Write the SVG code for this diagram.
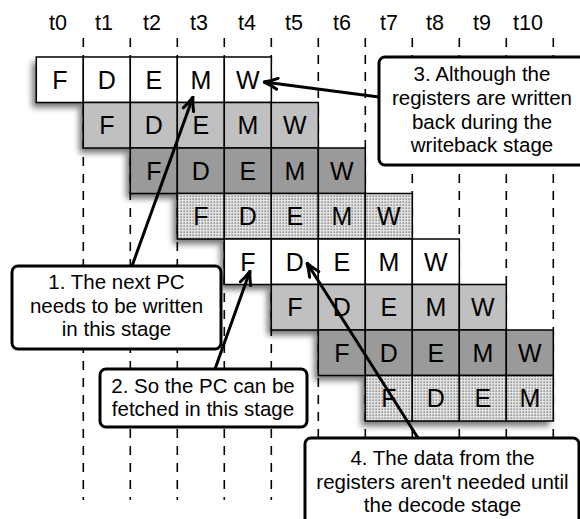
<svg xmlns="http://www.w3.org/2000/svg" width="580" height="519" viewBox="0 0 580 519">
<defs>
<style>
.hdr{font-family:"Liberation Sans",Arial,sans-serif;font-size:21.5px;text-anchor:middle;fill:#000}
.st{font-family:"Liberation Sans",Arial,sans-serif;font-size:25px;text-anchor:middle;fill:#000}
.cl{font-family:"Liberation Sans",Arial,sans-serif;font-size:20.5px;text-anchor:middle;fill:#000}
.grid{stroke:#000;stroke-width:1.6;stroke-dasharray:9 8;fill:none}
.cell{stroke:#000;stroke-width:1.5}
.w{fill:#fff}.g1{fill:#c0c0c0}.g2{fill:#9a9a9a}.dt{fill:url(#dots)}
.box{fill:#fff;stroke:#000;stroke-width:3}
.arr{stroke:#000;stroke-width:3;fill:none;marker-end:url(#ah)}
</style>
<pattern id="dots" width="3" height="3" patternUnits="userSpaceOnUse">
<rect width="3" height="3" fill="#e2e2e2"/>
<rect x="0.5" y="0.5" width="1.3" height="1.3" fill="#6e6e6e"/>
</pattern>
<filter id="sh" x="-20%" y="-30%" width="140%" height="170%">
<feDropShadow dx="-4" dy="5" stdDeviation="3" flood-color="#000" flood-opacity="0.55"/>
</filter>
<marker id="ah" viewBox="0 0 16 14" refX="15" refY="7" markerWidth="16" markerHeight="14" markerUnits="userSpaceOnUse" orient="auto">
<path d="M1.5,1.5 Q8,5 15,7 Q8,9 1.5,12.5" fill="none" stroke="#000" stroke-width="3" stroke-linecap="round" stroke-linejoin="round"/>
</marker>
</defs>
<rect width="580" height="519" fill="#fff"/>
<g id="header">
<text class="hdr" x="58" y="30">t0</text>
<text class="hdr" x="104" y="30">t1</text>
<text class="hdr" x="152" y="30">t2</text>
<text class="hdr" x="199" y="30">t3</text>
<text class="hdr" x="247" y="30">t4</text>
<text class="hdr" x="294" y="30">t5</text>
<text class="hdr" x="342" y="30">t6</text>
<text class="hdr" x="389" y="30">t7</text>
<text class="hdr" x="435" y="30">t8</text>
<text class="hdr" x="482" y="30">t9</text>
<text class="hdr" x="528" y="30">t10</text>
</g>
<g id="gridlines">
<line class="grid" x1="83.3" y1="38" x2="83.3" y2="500"/>
<line class="grid" x1="130.3" y1="38" x2="130.3" y2="500"/>
<line class="grid" x1="177.3" y1="38" x2="177.3" y2="500"/>
<line class="grid" x1="224.3" y1="38" x2="224.3" y2="500"/>
<line class="grid" x1="271.3" y1="38" x2="271.3" y2="500"/>
<line class="grid" x1="318.3" y1="38" x2="318.3" y2="500"/>
<line class="grid" x1="365.3" y1="38" x2="365.3" y2="500"/>
<line class="grid" x1="412.3" y1="38" x2="412.3" y2="500"/>
<line class="grid" x1="459.3" y1="38" x2="459.3" y2="500"/>
<line class="grid" x1="506.3" y1="38" x2="506.3" y2="500"/>
<line class="grid" x1="553.3" y1="38" x2="553.3" y2="500"/>
</g>
<g id="row0">
<rect class="w" x="36.3" y="57" width="235" height="45.5" filter="url(#sh)"/>
<rect class="cell w" x="36.3" y="57" width="47" height="45.5"/><rect class="cell w" x="83.3" y="57" width="47" height="45.5"/><rect class="cell w" x="130.3" y="57" width="47" height="45.5"/><rect class="cell w" x="177.3" y="57" width="47" height="45.5"/><rect class="cell w" x="224.3" y="57" width="47" height="45.5"/>
<text class="st" x="59.8" y="88.5">F</text><text class="st" x="106.8" y="88.5">D</text><text class="st" x="153.8" y="88.5">E</text><text class="st" x="200.8" y="88.5">M</text><text class="st" x="247.8" y="88.5">W</text>
</g>
<g id="row1">
<rect class="g1" x="83.3" y="102.5" width="235" height="45.5" filter="url(#sh)"/>
<rect class="cell g1" x="83.3" y="102.5" width="47" height="45.5"/><rect class="cell g1" x="130.3" y="102.5" width="47" height="45.5"/><rect class="cell g1" x="177.3" y="102.5" width="47" height="45.5"/><rect class="cell g1" x="224.3" y="102.5" width="47" height="45.5"/><rect class="cell g1" x="271.3" y="102.5" width="47" height="45.5"/>
<text class="st" x="106.8" y="134">F</text><text class="st" x="153.8" y="134">D</text><text class="st" x="200.8" y="134">E</text><text class="st" x="247.8" y="134">M</text><text class="st" x="294.8" y="134">W</text>
</g>
<g id="row2">
<rect class="g2" x="130.3" y="148" width="235" height="45.5" filter="url(#sh)"/>
<rect class="cell g2" x="130.3" y="148" width="47" height="45.5"/><rect class="cell g2" x="177.3" y="148" width="47" height="45.5"/><rect class="cell g2" x="224.3" y="148" width="47" height="45.5"/><rect class="cell g2" x="271.3" y="148" width="47" height="45.5"/><rect class="cell g2" x="318.3" y="148" width="47" height="45.5"/>
<text class="st" x="153.8" y="179.5">F</text><text class="st" x="200.8" y="179.5">D</text><text class="st" x="247.8" y="179.5">E</text><text class="st" x="294.8" y="179.5">M</text><text class="st" x="341.8" y="179.5">W</text>
</g>
<g id="row3">
<rect class="dt" x="177.3" y="193.5" width="235" height="45.5" filter="url(#sh)"/>
<rect class="cell dt" x="177.3" y="193.5" width="47" height="45.5"/><rect class="cell dt" x="224.3" y="193.5" width="47" height="45.5"/><rect class="cell dt" x="271.3" y="193.5" width="47" height="45.5"/><rect class="cell dt" x="318.3" y="193.5" width="47" height="45.5"/><rect class="cell dt" x="365.3" y="193.5" width="47" height="45.5"/>
<text class="st" x="200.8" y="225">F</text><text class="st" x="247.8" y="225">D</text><text class="st" x="294.8" y="225">E</text><text class="st" x="341.8" y="225">M</text><text class="st" x="388.8" y="225">W</text>
</g>
<g id="row4">
<rect class="w" x="224.3" y="239" width="235" height="45.5" filter="url(#sh)"/>
<rect class="cell w" x="224.3" y="239" width="47" height="45.5"/><rect class="cell w" x="271.3" y="239" width="47" height="45.5"/><rect class="cell w" x="318.3" y="239" width="47" height="45.5"/><rect class="cell w" x="365.3" y="239" width="47" height="45.5"/><rect class="cell w" x="412.3" y="239" width="47" height="45.5"/>
<text class="st" x="247.8" y="270.5">F</text><text class="st" x="294.8" y="270.5">D</text><text class="st" x="341.8" y="270.5">E</text><text class="st" x="388.8" y="270.5">M</text><text class="st" x="435.8" y="270.5">W</text>
</g>
<g id="row5">
<rect class="g1" x="271.3" y="284.5" width="235" height="45.5" filter="url(#sh)"/>
<rect class="cell g1" x="271.3" y="284.5" width="47" height="45.5"/><rect class="cell g1" x="318.3" y="284.5" width="47" height="45.5"/><rect class="cell g1" x="365.3" y="284.5" width="47" height="45.5"/><rect class="cell g1" x="412.3" y="284.5" width="47" height="45.5"/><rect class="cell g1" x="459.3" y="284.5" width="47" height="45.5"/>
<text class="st" x="294.8" y="316">F</text><text class="st" x="341.8" y="316">D</text><text class="st" x="388.8" y="316">E</text><text class="st" x="435.8" y="316">M</text><text class="st" x="482.8" y="316">W</text>
</g>
<g id="row6">
<rect class="g2" x="318.3" y="330" width="235" height="45.5" filter="url(#sh)"/>
<rect class="cell g2" x="318.3" y="330" width="47" height="45.5"/><rect class="cell g2" x="365.3" y="330" width="47" height="45.5"/><rect class="cell g2" x="412.3" y="330" width="47" height="45.5"/><rect class="cell g2" x="459.3" y="330" width="47" height="45.5"/><rect class="cell g2" x="506.3" y="330" width="47" height="45.5"/>
<text class="st" x="341.8" y="361.5">F</text><text class="st" x="388.8" y="361.5">D</text><text class="st" x="435.8" y="361.5">E</text><text class="st" x="482.8" y="361.5">M</text><text class="st" x="529.8" y="361.5">W</text>
</g>
<g id="row7">
<rect class="dt" x="365.3" y="375.5" width="188" height="45.5" filter="url(#sh)"/>
<rect class="cell dt" x="365.3" y="375.5" width="47" height="45.5"/><rect class="cell dt" x="412.3" y="375.5" width="47" height="45.5"/><rect class="cell dt" x="459.3" y="375.5" width="47" height="45.5"/><rect class="cell dt" x="506.3" y="375.5" width="47" height="45.5"/>
<text class="st" x="388.8" y="407">F</text><text class="st" x="435.8" y="407">D</text><text class="st" x="482.8" y="407">E</text><text class="st" x="529.8" y="407">M</text>
</g>
<g id="note1">
<rect class="box" x="12" y="266" width="209" height="83" rx="6"/>
<text class="cl" x="116.5" y="289">1. The next PC</text>
<text class="cl" x="116.5" y="312.5">needs to be written</text>
<text class="cl" x="116.5" y="336">in this stage</text>
</g>
<g id="note2">
<rect class="box" x="100" y="369" width="207" height="58" rx="6"/>
<text class="cl" x="203" y="393">2. So the PC can be</text>
<text class="cl" x="203" y="416">fetched in this stage</text>
</g>
<g id="note3">
<rect class="box" x="379" y="57" width="212" height="108" rx="6"/>
<text class="cl" x="482" y="81">3. Although the</text>
<text class="cl" x="482" y="105">registers are written</text>
<text class="cl" x="482" y="128.5">back during the</text>
<text class="cl" x="482" y="152">writeback stage</text>
</g>
<g id="note4">
<rect class="box" x="305" y="438" width="274" height="100" rx="6"/>
<text class="cl" x="442.5" y="465">4. The data from the</text>
<text class="cl" x="442.5" y="488.5">registers aren't needed until</text>
<text class="cl" x="442.5" y="512">the decode stage</text>
</g>
<g id="connectors">
<line class="arr" x1="132" y1="266" x2="193" y2="97"/>
<line class="arr" x1="215" y1="369" x2="250" y2="271"/>
<line class="arr" x1="379" y1="97" x2="264" y2="82"/>
<line class="arr" x1="418" y1="438" x2="307" y2="263"/>
</g>
</svg>
